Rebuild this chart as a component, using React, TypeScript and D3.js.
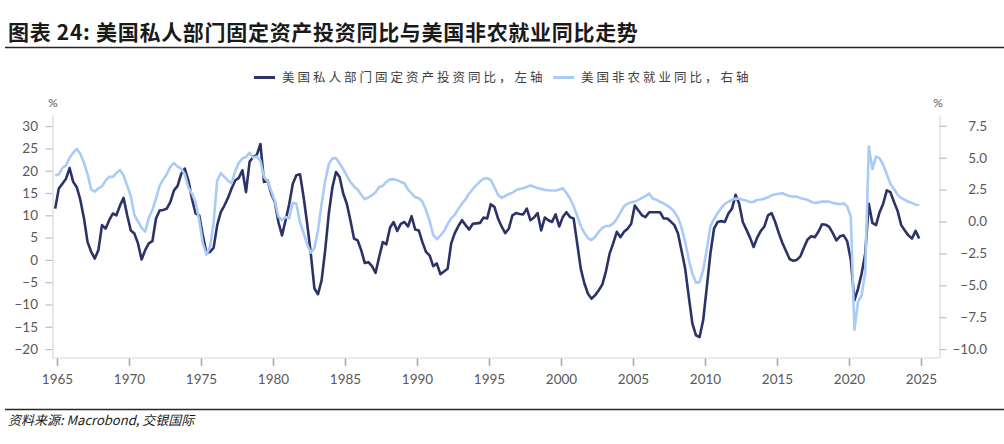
import { useEffect, useRef } from "react";
import * as d3 from "d3";

// Quarterly observations, plotted mid-quarter; first point is 1964 Q4
const FIRST_QUARTER = 1964.875;
const QUARTER_STEP = 0.25;

// 美国私人部门固定资产投资同比 (%, left axis)
const fixedInvestmentYoY = [
	11.5,
	16.0, 17.1, 18.2, 20.6, // 1965
	17.5, 16.3, 13.4, 9.3, // 1966
	4.0, 1.8, 0.3, 2.2, // 1967
	7.8, 7.0, 8.9, 10.4, // 1968
	10.0, 12.2, 13.9, 10.0, // 1969
	6.6, 5.9, 3.7, 0.1, // 1970
	2.2, 3.7, 4.2, 9.3, // 1971
	11.1, 11.2, 11.5, 13.0, // 1972
	15.6, 16.6, 19.3, 20.5, // 1973
	17.8, 13.7, 10.4, 10.0, // 1974
	5.5, 1.6, 1.8, 2.7, // 1975
	7.8, 10.7, 12.2, 13.9, // 1976
	16.0, 17.8, 18.4, 20.1, // 1977
	15.2, 22.0, 23.1, 23.5, // 1978
	26.0, 17.5, 17.8, 14.9, // 1979
	13.0, 8.5, 5.5, 8.9, // 1980
	12.5, 17.1, 19.0, 19.2, // 1981
	14.1, 8.1, 1.4, -6.4, // 1982
	-7.7, -4.6, 2.2, 10.4, // 1983
	16.3, 19.7, 18.6, 14.9, // 1984
	12.6, 8.9, 4.8, 4.4, // 1985
	2.2, -0.7, -0.5, -1.4, // 1986
	-2.9, 0.7, 4.0, 3.5, // 1987
	7.2, 8.5, 6.5, 8.1, // 1988
	8.5, 7.5, 9.8, 6.8, // 1989
	6.6, 4.0, 1.8, 1.0, // 1990
	-1.4, -0.8, -3.2, -2.6, // 1991
	-2.0, 3.7, 6.0, 7.6, // 1992
	8.9, 7.8, 6.8, 8.1, // 1993
	8.2, 8.3, 9.5, 9.3, // 1994
	12.5, 11.9, 9.3, 7.5, // 1995
	6.0, 7.0, 10.0, 10.5, // 1996
	10.3, 10.2, 11.5, 8.9, // 1997
	9.5, 10.5, 6.6, 9.5, // 1998
	8.9, 8.5, 10.2, 7.5, // 1999
	9.6, 10.7, 9.6, 9.3, // 2000
	3.7, -2.0, -5.3, -7.6, // 2001
	-8.7, -7.9, -6.8, -5.5, // 2002
	-2.5, 1.4, 3.7, 6.3, // 2003
	5.1, 6.3, 7.0, 8.1, // 2004
	12.2, 11.1, 10.0, 9.6, // 2005
	10.7, 10.7, 10.7, 10.7, // 2006
	9.3, 9.3, 8.6, 7.8, // 2007
	5.9, 2.0, -2.0, -8.3, // 2008
	-14.3, -16.9, -17.3, -13.5, // 2009
	-6.1, 1.4, 7.0, 8.5, // 2010
	8.7, 8.5, 10.4, 11.5, // 2011
	14.6, 12.6, 8.5, 6.8, // 2012
	5.0, 2.9, 5.0, 6.5, // 2013
	7.5, 10.0, 10.5, 8.5, // 2014
	6.0, 3.8, 2.0, 0.2, // 2015
	-0.2, 0.0, 0.8, 2.8, // 2016
	4.6, 5.3, 5.1, 6.3, // 2017
	8.0, 7.9, 7.4, 6.0, // 2018
	4.4, 5.3, 5.5, 4.2, // 2019
	0.0, -9.1, -6.5, -3.1, // 2020
	1.4, 12.6, 8.3, 7.8, // 2021
	10.7, 12.6, 15.6, 15.2, // 2022
	13.0, 11.0, 7.8, 6.6, // 2023
	5.5, 4.8, 6.5, 4.8, // 2024
];

// 美国非农就业同比 (%, right axis)
const nonfarmPayrollsYoY = [
	3.6,
	3.7, 4.2, 4.4, 5.0, // 1965
	5.4, 5.7, 5.3, 4.6, // 1966
	3.7, 2.5, 2.35, 2.6, // 1967
	2.75, 3.2, 3.5, 3.5, // 1968
	3.8, 4.05, 3.6, 2.8, // 1969
	2.0, 0.5, 0.0, -0.5, // 1970
	-0.8, 0.3, 0.9, 1.8, // 1971
	2.8, 3.3, 3.7, 4.3, // 1972
	4.58, 4.3, 4.15, 3.7, // 1973
	2.66, 2.2, 1.5, 0.1, // 1974
	-1.7, -2.6, -2.0, -0.1, // 1975
	3.2, 3.8, 3.5, 3.2, // 1976
	3.0, 3.95, 4.6, 4.95, // 1977
	5.05, 5.4, 5.0, 5.1, // 1978
	4.75, 3.5, 3.15, 2.4, // 1979
	1.6, 0.4, 0.1, 0.35, // 1980
	0.25, 1.48, 1.4, -0.08, // 1981
	-0.9, -1.8, -2.45, -2.1, // 1982
	-0.7, 1.4, 3.2, 4.5, // 1983
	4.95, 4.97, 4.55, 4.1, // 1984
	3.6, 3.1, 2.75, 2.5, // 1985
	2.1, 1.75, 1.9, 2.05, // 1986
	2.3, 2.7, 2.8, 3.1, // 1987
	3.3, 3.32, 3.25, 3.1, // 1988
	3.0, 2.5, 2.2, 1.9, // 1989
	1.83, 1.55, 0.9, 0.05, // 1990
	-1.05, -1.39, -1.1, -0.75, // 1991
	-0.2, 0.25, 0.52, 1.0, // 1992
	1.4, 1.75, 2.2, 2.55, // 1993
	2.85, 3.13, 3.35, 3.4, // 1994
	3.25, 2.7, 2.1, 1.85, // 1995
	2.0, 2.15, 2.25, 2.45, // 1996
	2.55, 2.61, 2.7, 2.82, // 1997
	2.72, 2.62, 2.55, 2.48, // 1998
	2.45, 2.43, 2.43, 2.5, // 1999
	2.61, 2.25, 1.8, 1.2, // 2000
	0.45, -0.35, -0.9, -1.3, // 2001
	-1.45, -1.2, -0.8, -0.5, // 2002
	-0.35, -0.35, -0.15, 0.2, // 2003
	0.7, 1.2, 1.4, 1.5, // 2004
	1.56, 1.7, 1.85, 2.0, // 2005
	2.2, 1.8, 1.7, 1.55, // 2006
	1.43, 1.25, 1.05, 0.75, // 2007
	0.3, -0.5, -1.6, -3.0, // 2008
	-4.1, -4.8, -4.75, -3.8, // 2009
	-2.2, -0.35, 0.2, 0.65, // 2010
	1.05, 1.38, 1.55, 1.7, // 2011
	1.8, 1.78, 1.7, 1.64, // 2012
	1.52, 1.55, 1.7, 1.72, // 2013
	1.78, 1.9, 2.05, 2.12, // 2014
	2.18, 2.22, 2.1, 2.0, // 2015
	1.95, 1.95, 1.83, 1.77, // 2016
	1.7, 1.55, 1.45, 1.5, // 2017
	1.56, 1.56, 1.56, 1.45, // 2018
	1.4, 1.35, 1.42, 1.2, // 2019
	0.4, -8.5, -6.3, -5.8, // 2020
	-4.0, 5.88, 4.1, 5.1, // 2021
	4.95, 4.45, 3.7, 2.95, // 2022
	2.55, 2.1, 1.85, 1.7, // 2023
	1.55, 1.45, 1.32, 1.3, // 2024
];

const yearTicks = [1965, 1970, 1975, 1980, 1985, 1990, 1995, 2000, 2005, 2010, 2015, 2020, 2025];
const leftTicks = [30, 25, 20, 15, 10, 5, 0, -5, -10, -15, -20];
const rightTicks = [7.5, 5.0, 2.5, 0.0, -2.5, -5.0, -7.5, -10.0];

const seriesNames = ["美国私人部门固定资产投资同比，左轴", "美国非农就业同比，右轴"];
const seriesColors = ["#2b3366", "#a9cbf6"];

const TITLE = "图表 24: 美国私人部门固定资产投资同比与美国非农就业同比走势";
const SOURCE = "资料来源: Macrobond, 交银国际";

const CJK = "'Noto Sans CJK SC', 'Noto Sans', sans-serif";
const NUM = "Lato, 'Noto Sans', sans-serif";

export default function App() {
	const ref = useRef<SVGSVGElement>(null);

	useEffect(() => {
		if (!ref.current) return;
		const svg = d3.select(ref.current);
		svg.selectAll("*").remove();

		// Plot frame (left axis, right axis, bottom axis)
		const frame = { left: 52.5, right: 939.5, top: 115, bottom: 358 };

		const quarters = fixedInvestmentYoY.map((_, i) => FIRST_QUARTER + i * QUARTER_STEP);

		const x = d3.scaleLinear().domain([1965, 2025]).range([57, 921]);
		const yLeft = d3.scaleLinear().domain([-22, 32.5]).range([frame.bottom, frame.top]);
		const yRight = d3.scaleLinear().domain([-10.7, 8.35]).range([frame.bottom, frame.top]);

		svg.append("rect")
			.attr("width", 1004)
			.attr("height", 444)
			.attr("fill", "#ffffff");

		// Title + rule
		svg.append("text")
			.attr("x", 8)
			.attr("y", 40)
			.attr("font-family", CJK)
			.attr("font-size", 21)
			.attr("font-weight", 700)
			.attr("letter-spacing", 0.7)
			.attr("fill", "#1a1a1a")
			.text(TITLE);

		svg.append("line")
			.attr("x1", 5).attr("x2", 1004)
			.attr("y1", 47.5).attr("y2", 47.5)
			.attr("stroke", "#262626")
			.attr("stroke-width", 1.5);

		// Legend
		const legendX = [254, 553];
		seriesNames.forEach((name, i) => {
			const item = svg.append("g").attr("transform", `translate(${legendX[i]},77.5)`);
			item.append("line")
				.attr("x1", 0).attr("x2", 21)
				.attr("stroke", seriesColors[i])
				.attr("stroke-width", 3);
			item.append("text")
				.attr("x", 28)
				.attr("dy", "0.36em")
				.attr("font-family", CJK)
				.attr("font-size", 12.5)
				.attr("letter-spacing", 3)
				.attr("fill", "#404040")
				.text(name);
		});

		// Unit labels
		[[53, "%"], [938, "%"]].forEach(([px, label]) => {
			svg.append("text")
				.attr("x", px as number)
				.attr("y", 107)
				.attr("text-anchor", "middle")
				.attr("font-family", NUM)
				.attr("font-size", 12)
				.attr("fill", "#595959")
				.text(label as string);
		});

		// Left axis
		const leftAxis = svg.append("g")
			.attr("transform", `translate(${frame.left},0)`)
			.call(d3.axisLeft(yLeft).tickValues(leftTicks).tickSize(7).tickSizeOuter(0).tickPadding(7.5).tickFormat(d3.format("d")));

		// Right axis
		const rightAxis = svg.append("g")
			.attr("transform", `translate(${frame.right},0)`)
			.call(d3.axisRight(yRight).tickValues(rightTicks).tickSize(7).tickSizeOuter(0).tickFormat(d3.format(".1f")));
		rightAxis.selectAll("text")
			.attr("x", 47.5)
			.attr("text-anchor", "end");

		// Bottom axis (domain drawn separately so it spans the whole frame)
		const bottomAxis = svg.append("g")
			.attr("transform", `translate(0,${frame.bottom})`)
			.call(d3.axisBottom(x).tickValues(yearTicks).tickSize(8).tickPadding(8).tickFormat(d3.format("d")));
		bottomAxis.select(".domain").remove();

		svg.append("line")
			.attr("x1", frame.left).attr("x2", frame.right)
			.attr("y1", frame.bottom).attr("y2", frame.bottom)
			.attr("stroke", "#d9d9d9")
			.attr("stroke-width", 1.2);

		[leftAxis, rightAxis].forEach(ax => {
			ax.select(".domain").attr("stroke", "#d9d9d9").attr("stroke-width", 1.2);
			ax.selectAll(".tick line").attr("stroke", "#bfbfbf").attr("stroke-width", 1.2);
		});
		bottomAxis.selectAll(".tick line").attr("stroke", "#a6a6a6").attr("stroke-width", 1.5);

		[leftAxis, rightAxis, bottomAxis].forEach(ax => {
			ax.selectAll("text")
				.attr("font-family", NUM)
				.attr("font-size", 13.5)
				.attr("fill", "#595959");
		});

		// Series lines (non-farm drawn on top)
		const investLine = d3.line<number>()
			.x((_, i) => x(quarters[i]))
			.y(d => yLeft(d));

		const payrollLine = d3.line<number>()
			.x((_, i) => x(quarters[i]))
			.y(d => yRight(d));

		svg.append("path")
			.datum(fixedInvestmentYoY)
			.attr("d", investLine)
			.attr("fill", "none")
			.attr("stroke", seriesColors[0])
			.attr("stroke-width", 2.6)
			.attr("stroke-linejoin", "round");

		svg.append("path")
			.datum(nonfarmPayrollsYoY)
			.attr("d", payrollLine)
			.attr("fill", "none")
			.attr("stroke", seriesColors[1])
			.attr("stroke-width", 2.6)
			.attr("stroke-linejoin", "round");

		// Footer rule + source
		svg.append("line")
			.attr("x1", 5).attr("x2", 1004)
			.attr("y1", 409.5).attr("y2", 409.5)
			.attr("stroke", "#262626")
			.attr("stroke-width", 1.5);

		svg.append("text")
			.attr("x", 8)
			.attr("y", 425)
			.attr("font-family", CJK)
			.attr("font-size", 13)
			.attr("font-style", "italic")
			.attr("fill", "#1a1a1a")
			.text(SOURCE);
	}, []);

	return (
		<svg
			ref={ref}
			width={1004}
			height={444}
			style={{ position: "absolute", left: 0, top: 0, display: "block" }}
		/>
	);
}
